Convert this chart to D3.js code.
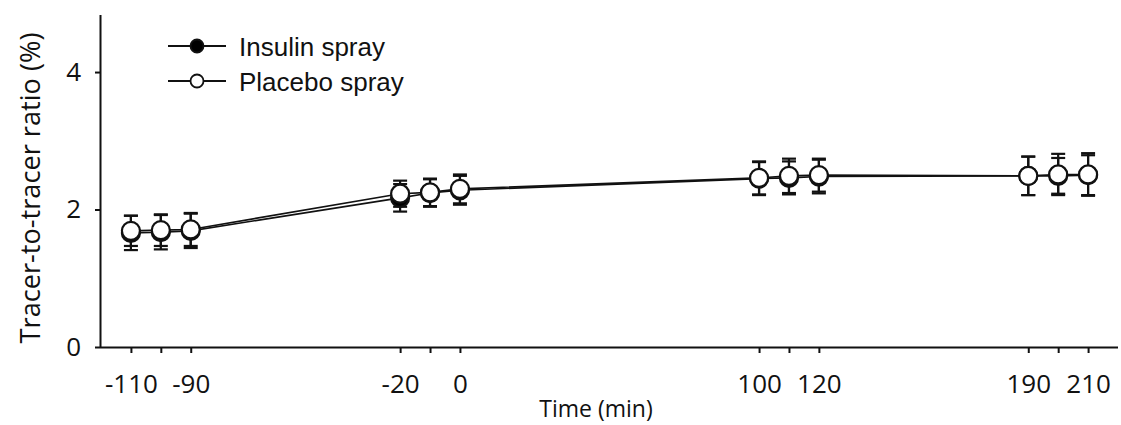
<!DOCTYPE html>
<html>
<head>
<meta charset="utf-8">
<script src="https://cdn.jsdelivr.net/npm/d3@7/dist/d3.min.js"></script>
<style>
  html, body { margin: 0; padding: 0; background: #fff; }
  svg { display: block; }
</style>
</head>
<body>
<svg id="chart" width="1121" height="425"></svg>
<script>
// ---- Data ----
const times = [-110, -100, -90, -20, -10, 0, 100, 110, 120, 190, 200, 210];
const xTickLabels = [-110, -90, -20, 0, 100, 120, 190, 210];
const yTicks = [0, 2, 4];
const insulinMean = [1.66, 1.67, 1.69, 2.17, 2.24, 2.28, 2.45, 2.46, 2.48, 2.49, 2.49, 2.50];
const insulinSE   = [0.25, 0.25, 0.25, 0.20, 0.20, 0.21, 0.24, 0.24, 0.245, 0.28, 0.26, 0.29];
const placeboMean = [1.69, 1.70, 1.71, 2.23, 2.25, 2.30, 2.46, 2.49, 2.50, 2.49, 2.51, 2.51];
const placeboSE   = [0.22, 0.23, 0.24, 0.19, 0.20, 0.21, 0.24, 0.25, 0.24, 0.28, 0.30, 0.31];
const seriesNames = ["Insulin spray", "Placebo spray"];
const xTitle = "Time (min)";
const yTitle = "Tracer-to-tracer ratio (%)";

const series = [
  { name: seriesNames[0], mean: insulinMean, se: insulinSE, fill: "#000" },
  { name: seriesNames[1], mean: placeboMean, se: placeboSE, fill: "#fff" }
];

const svg = d3.select("#chart");
const mLeft = 101, mRight = 1118, mTop = 15, mBottom = 347;

const x = d3.scaleLinear().domain([-120, 220]).range([mLeft, mRight]);
const y = d3.scaleLinear().domain([0, 4.83]).range([mBottom, mTop]);

const tickFont = "'Open Sans', 'Noto Sans', sans-serif";

// X axis
const xAxis = svg.append("g")
  .attr("transform", `translate(0,${mBottom})`)
  .call(d3.axisBottom(x).tickValues(times).tickSize(6).tickPadding(22)
    .tickFormat(d => xTickLabels.includes(d) ? String(d) : ""));
xAxis.select(".domain").attr("d", `M${mLeft},0.5H${mRight}`).attr("stroke", "#111").attr("stroke-width", 2);
xAxis.selectAll(".tick line").attr("stroke", "#111").attr("stroke-width", 2);
xAxis.selectAll(".tick text").attr("fill", "#111").attr("font-family", tickFont).attr("font-size", 26);

// Y axis
const yAxis = svg.append("g")
  .attr("transform", `translate(${mLeft},0)`)
  .call(d3.axisLeft(y).tickValues(yTicks).tickSize(6).tickPadding(14).tickFormat(d3.format("d")));
yAxis.select(".domain").attr("d", `M-0.5,${mTop}V${mBottom}`).attr("stroke", "#111").attr("stroke-width", 2);
yAxis.selectAll(".tick line").attr("stroke", "#111").attr("stroke-width", 2);
yAxis.selectAll(".tick text").attr("fill", "#111").attr("font-family", tickFont).attr("font-size", 26);

// Axis titles
svg.append("text")
  .attr("x", 596).attr("y", 417)
  .attr("text-anchor", "middle")
  .attr("font-family", tickFont).attr("font-size", 23).attr("fill", "#111")
  .text(xTitle);

const yt = svg.append("text")
  .attr("transform", "translate(40,188) rotate(-90)")
  .attr("text-anchor", "middle")
  .attr("font-family", tickFont).attr("font-size", 24).attr("fill", "#111")
  .text(yTitle);
const len = yt.node().getComputedTextLength();
yt.attr("font-size", 24 * 311 / len);

// Lines
const line = d3.line().x((d, i) => x(times[i])).y(d => y(d));
series.forEach(s => {
  svg.append("path").datum(s.mean)
    .attr("d", line).attr("fill", "none").attr("stroke", "#111").attr("stroke-width", 1.6);
});

// Error bars
const capW = 7;
series.forEach(s => {
  const g = svg.append("g").attr("stroke", "#111").attr("stroke-width", 2.2);
  times.forEach((t, i) => {
    const cx = x(t), hi = y(s.mean[i] + s.se[i]), lo = y(s.mean[i] - s.se[i]);
    g.append("line").attr("x1", cx).attr("x2", cx).attr("y1", hi).attr("y2", lo);
    g.append("line").attr("x1", cx - capW).attr("x2", cx + capW).attr("y1", hi).attr("y2", hi);
    g.append("line").attr("x1", cx - capW).attr("x2", cx + capW).attr("y1", lo).attr("y2", lo);
  });
});

// Markers
series.forEach(s => {
  svg.append("g").selectAll("circle").data(s.mean).join("circle")
    .attr("cx", (d, i) => x(times[i])).attr("cy", d => y(d)).attr("r", 9)
    .attr("fill", s.fill).attr("stroke", "#111").attr("stroke-width", 2.2);
});

// Legend
const legendY = [46, 81];
series.forEach((s, i) => {
  const g = svg.append("g");
  g.append("line").attr("x1", 168).attr("x2", 226).attr("y1", legendY[i]).attr("y2", legendY[i])
    .attr("stroke", "#111").attr("stroke-width", 1.8);
  g.append("circle").attr("cx", 197).attr("cy", legendY[i]).attr("r", 6.5)
    .attr("fill", s.fill).attr("stroke", "#111").attr("stroke-width", 1.8);
  g.append("text").attr("x", 239).attr("y", legendY[i] + 10)
    .attr("font-family", "'Liberation Sans', Arial, sans-serif").attr("font-size", 26).attr("fill", "#111")
    .text(s.name);
});
</script>
</body>
</html>
